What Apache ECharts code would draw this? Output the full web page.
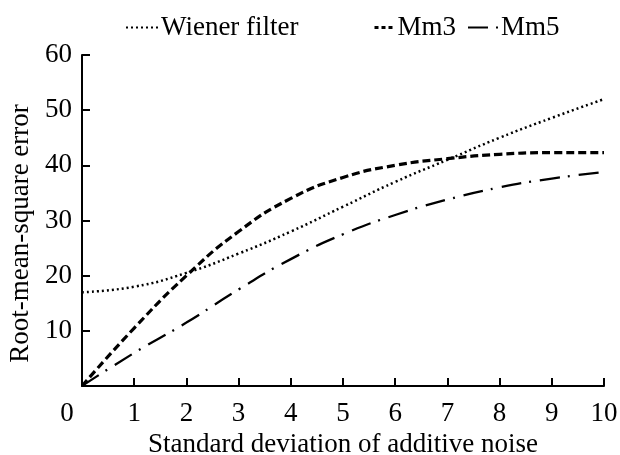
<!DOCTYPE html>
<html>
<head>
<meta charset="utf-8">
<script src="https://cdn.jsdelivr.net/npm/echarts@6/dist/echarts.min.js"></script>
<style>
  html, body { margin: 0; padding: 0; background: #fff; }
  #main { width: 620px; height: 455px; }
</style>
</head>
<body>
<div id="main"></div>
<script>
// noise levels (x) and errors
var noise = [0, 1, 2, 3, 4, 5, 6, 7, 8, 9, 10];
var wiener = [17, 18, 20.5, 24, 28, 32.5, 37, 41, 45, 48.6, 52];
var mm3 = [0, 10.5, 20, 28, 34, 37.8, 40, 41.2, 42, 42.3, 42.3];
var mm5 = [0, 6, 11.5, 17.5, 23, 27.5, 31, 33.8, 36, 37.6, 38.8];

var font = 'Liberation Serif';
var fs = 27;

function pairs(ys) {
  return noise.map(function (x, i) { return [x, ys[i]]; });
}

var myChart = echarts.init(document.getElementById('main'));

var axisLine = { show: true, lineStyle: { color: '#000', width: 2 } };
var axisTick = { show: true, inside: true, length: 8, lineStyle: { color: '#000', width: 2 } };

// one legend per entry, the spacing in the figure is uneven
function legend(name, left, w, line) {
  var l = {
    data: [name],
    left: left,
    top: 9,
    itemWidth: w,
    itemHeight: 14,
    itemGap: 4,
    itemStyle: { opacity: 0 },
    textStyle: { fontFamily: font, fontSize: fs, color: '#000', padding: [0, 0, 0, -2] }
  };
  if (line) l.lineStyle = line;
  return l;
}

myChart.setOption({
  animation: false,
  backgroundColor: '#fff',
  legend: [
    legend('Wiener filter', 120, 32),
    legend('Mm3', 368, 20, { type: [4, 3], width: 3 }),
    legend('Mm5', 462, 30)
  ],
  grid: { left: 82, right: 16, top: 55, bottom: 69, outerBoundsMode: 'none', containLabel: false },
  xAxis: {
    type: 'value',
    min: 0,
    max: 10,
    interval: 1,
    name: 'Standard deviation of additive noise',
    nameLocation: 'middle',
    nameGap: 38,
    nameTextStyle: { fontFamily: font, fontSize: fs, color: '#000' },
    axisLine: axisLine,
    axisTick: axisTick,
    splitLine: { show: false },
    axisLabel: {
      margin: 14,
      fontFamily: font,
      fontSize: fs,
      color: '#000',
      formatter: function (v) { return v === 0 ? '{z|0}' : String(v); },
      rich: { z: { fontFamily: font, fontSize: fs, color: '#000', padding: [0, 30, 0, 0] } }
    }
  },
  yAxis: {
    type: 'value',
    min: 0,
    max: 60,
    interval: 10,
    name: 'Root-mean-square error',
    nameLocation: 'middle',
    nameGap: 46,
    nameTextStyle: { fontFamily: font, fontSize: fs, color: '#000', padding: [0, 26, 0, 0] },
    axisLine: axisLine,
    axisTick: axisTick,
    splitLine: { show: false },
    axisLabel: {
      margin: 10,
      showMinLabel: false,
      fontFamily: font,
      fontSize: fs,
      color: '#000'
    }
  },
  series: [
    {
      name: 'Wiener filter',
      type: 'line',
      smooth: true,
      showSymbol: false,
      symbol: 'none',
      data: pairs(wiener),
      itemStyle: { color: '#000' },
      lineStyle: { color: '#000', width: 2.5, type: [2, 3] }
    },
    {
      name: 'Mm3',
      type: 'line',
      smooth: true,
      showSymbol: false,
      symbol: 'none',
      data: pairs(mm3),
      itemStyle: { color: '#000' },
      lineStyle: { color: '#000', width: 3.2, type: [8, 4] }
    },
    {
      name: 'Mm5',
      type: 'line',
      smooth: true,
      showSymbol: false,
      symbol: 'none',
      data: pairs(mm5),
      itemStyle: { color: '#000' },
      lineStyle: { color: '#000', width: 2.3, type: [20, 8, 2, 9] }
    }
  ]
});
</script>
</body>
</html>
